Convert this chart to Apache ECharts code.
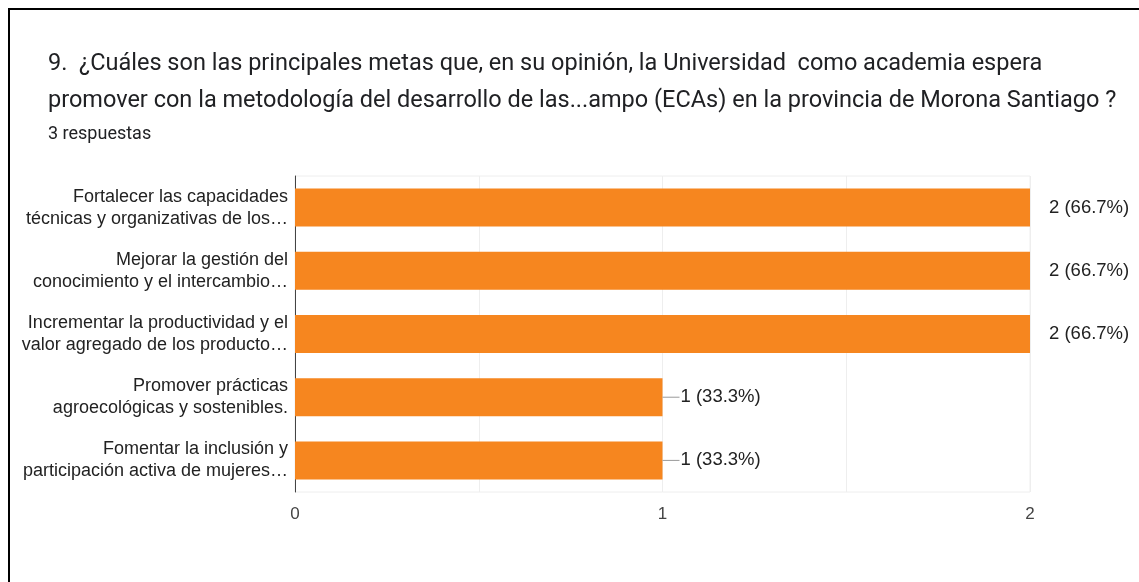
<!DOCTYPE html>
<html>
<head>
<meta charset="utf-8">
<script src="https://cdn.jsdelivr.net/npm/echarts@6/dist/echarts.min.js"></script>
<style>
  html, body { margin: 0; padding: 0; background: #fff; overflow: hidden; }
  #frame { position: absolute; left: 8px; top: 8px; width: 1200px; height: 640px;
           border-left: 2px solid #000; border-top: 2px solid #000; }
  #chart { position: absolute; left: 0; top: 0; width: 1139px; height: 582px; }
</style>
</head>
<body>
<div id="frame"></div>
<div id="chart"></div>
<script>
var question = '9.  ¿Cuáles son las principales metas que, en su opinión, la Universidad  como academia espera\n' +
  'promover con la metodología del desarrollo de las...ampo (ECAs) en la provincia de Morona Santiago ?';
var responses = '3 respuestas';
var categories = [
  'Fortalecer las capacidades\ntécnicas y organizativas de los…',
  'Mejorar la gestión del\nconocimiento y el intercambio…',
  'Incrementar la productividad y el\nvalor agregado de los producto…',
  'Promover prácticas\nagroecológicas y sostenibles.',
  'Fomentar la inclusión y\nparticipación activa de mujeres…'
];
var counts = [2, 2, 2, 1, 1];
var percents = ['66.7%', '66.7%', '66.7%', '33.3%', '33.3%'];
var total = 3;

function draw_chart() {
  var chart = echarts.init(document.getElementById('chart'));
  var option = {
    animation: false,
    title: [{
      text: question,
      left: 48,
      top: 46,
      padding: 0,
      textStyle: { fontFamily: 'Roboto', fontSize: 23.5, fontWeight: 'normal', color: '#202124', lineHeight: 37 }
    }, {
      text: responses,
      left: 48,
      top: 125,
      padding: 0,
      textStyle: { fontFamily: 'Roboto', fontSize: 18, fontWeight: 'normal', color: '#202124', lineHeight: 18 }
    }],
    grid: {
      left: 295, right: 109, top: 176, height: 316,
      show: true, borderColor: '#eeeeee', borderWidth: 1
    },
    xAxis: {
      type: 'value',
      min: 0,
      max: total - 1,
      interval: 0.5,
      axisLine: { show: false },
      axisTick: { show: false },
      splitLine: { lineStyle: { color: '#eeeeee' } },
      axisLabel: {
        margin: 14,
        fontFamily: 'Liberation Sans',
        fontSize: 17,
        color: '#444',
        formatter: function (v) { return v % 1 === 0 ? String(v) : ''; }
      }
    },
    yAxis: {
      type: 'category',
      inverse: true,
      data: categories,
      axisTick: { show: false },
      axisLine: { lineStyle: { color: '#444', width: 1 } },
      axisLabel: {
        margin: 7,
        fontFamily: 'Liberation Sans',
        fontSize: 18,
        lineHeight: 22,
        color: '#222'
      }
    },
    series: [{
      type: 'bar',
      data: counts,
      barWidth: 38,
      itemStyle: { color: '#f6861f' },
      label: {
        show: true,
        position: 'right',
        distance: 0,
        formatter: function (p) {
          var txt = p.value + ' (' + percents[p.dataIndex] + ')';
          if (p.value >= total - 1) return '{gap|}{t|' + txt + '}';
          return '{line|}{t|' + txt + '}';
        },
        rich: {
          gap: { width: 18, height: 1 },
          line: { width: 17, height: 1, backgroundColor: '#999' },
          t: { fontFamily: 'Liberation Sans', fontSize: 18.5, color: '#222', padding: [0, 0, 0, 1] }
        }
      }
    }]
  };
  chart.setOption(option);
  window.addEventListener('resize', function () {
    chart.resize();
  });
}

draw_chart();
</script>
</body>
</html>
